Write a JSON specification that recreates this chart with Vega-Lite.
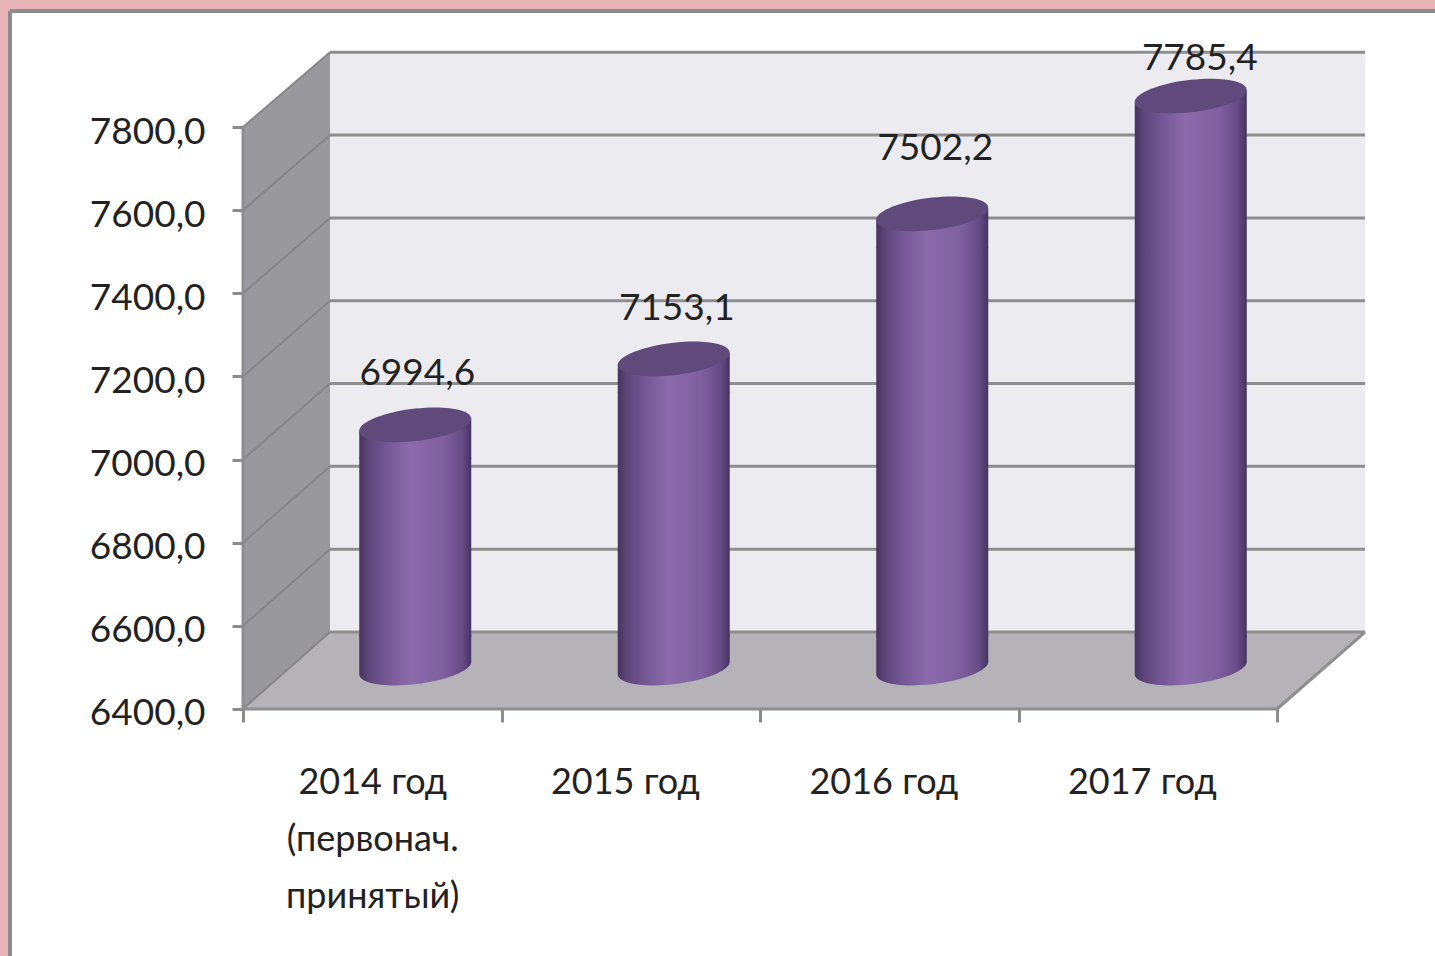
{"$schema":"https://vega.github.io/schema/vega-lite/v6.json","width":1425,"height":945,"autosize":{"type":"none"},"padding":{"left":10,"top":11,"right":0,"bottom":0},"background":"#e6b4b6","view":{"fill":"#ffffff","stroke":null},
"config":{"font":"Lato","axis":{"labelFont":"Lato","labelFontSize":36,"labelColor":"#222222","tickColor":"#8c8c8c","tickWidth":3,"grid":false}},
"datasets":{
"bars":[{"year":"2014 год","pos":0.5,"value":6994.6,"label":"6994,6","base":6400},{"year":"2015 год","pos":1.5,"value":7153.1,"label":"7153,1","base":6400},{"year":"2016 год","pos":2.5,"value":7502.2,"label":"7502,2","base":6400},{"year":"2017 год","pos":3.5,"value":7785.4,"label":"7785,4","base":6400}],
"grid":[{"v":6400,"back":6585,"front":0,"wall":0.33656,"end":4.3405},{"v":6600,"back":6784,"front":0,"wall":0.33656,"end":4.3405},{"v":6800,"back":6984,"front":0,"wall":0.33656,"end":4.3405},{"v":7000,"back":7183,"front":0,"wall":0.33656,"end":4.3405},{"v":7200,"back":7382,"front":0,"wall":0.33656,"end":4.3405},{"v":7400,"back":7581,"front":0,"wall":0.33656,"end":4.3405},{"v":7600,"back":7781,"front":0,"wall":0.33656,"end":4.3405},{"v":7800,"back":7980,"front":0,"wall":0.33656,"end":4.3405}],
"side":[{"x":0,"low":6400,"high":7800},{"x":0.33656,"low":6585,"high":7980}],
"floor":[{"y":6400,"left":0,"right":4},{"y":6585,"left":0.33656,"right":4.3405}],
"edges":[{"x":0,"x2":0,"y":6400,"y2":7800},{"x":0,"x2":4,"y":6400,"y2":6400},{"x":4,"x2":4.3405,"y":6400,"y2":6585}]
},
"layer":[{"layer":[
{"data":{"values":[{"x":0.33656,"x2":4.3405,"y":6585,"y2":7980}]},"mark":{"type":"rect","fill":"#ecebf0"},"encoding":{"x":{"field":"x","type":"quantitative","scale":{"domain":[-0.90135,4.6112],"nice":false,"zero":false,"padding":0},"axis":null},"x2":{"field":"x2"},"y":{"field":"y","type":"quantitative","scale":{"domain":[5805.84,8079.04],"nice":false,"zero":false},"axis":null},"y2":{"field":"y2"}}},
{"data":{"name":"floor"},"mark":{"type":"area","orient":"horizontal","fill":"#b5b3b7","opacity":1},"encoding":{"y":{"field":"y","type":"quantitative","scale":{"domain":[5805.84,8079.04],"nice":false,"zero":false},"axis":null},"x":{"field":"left","type":"quantitative","scale":{"domain":[-0.90135,4.6112],"nice":false,"zero":false,"padding":0},"axis":null},"x2":{"field":"right"}}},
{"data":{"name":"side"},"mark":{"type":"area","orient":"vertical","fill":"#99989c","opacity":1},"encoding":{"x":{"field":"x","type":"quantitative","scale":{"domain":[-0.90135,4.6112],"nice":false,"zero":false,"padding":0},"axis":null},"y":{"field":"low","type":"quantitative","scale":{"domain":[5805.84,8079.04],"nice":false,"zero":false},"axis":null},"y2":{"field":"high"}}},
{"data":{"name":"grid"},"mark":{"type":"rule","stroke":"#8e8e8e","strokeWidth":3},"encoding":{"x":{"field":"wall","type":"quantitative","scale":{"domain":[-0.90135,4.6112],"nice":false,"zero":false,"padding":0},"axis":null},"x2":{"field":"end"},"y":{"field":"back","type":"quantitative","scale":{"domain":[5805.84,8079.04],"nice":false,"zero":false},"axis":null}}},
{"data":{"name":"grid"},"mark":{"type":"rule","stroke":"#868688","strokeWidth":2},"encoding":{"x":{"field":"front","type":"quantitative","scale":{"domain":[-0.90135,4.6112],"nice":false,"zero":false,"padding":0},"axis":null},"x2":{"field":"wall"},"y":{"field":"v","type":"quantitative","scale":{"domain":[5805.84,8079.04],"nice":false,"zero":false},"axis":null},"y2":{"field":"back"}}},
{"data":{"name":"edges"},"mark":{"type":"rule","stroke":"#8e8e8e","strokeWidth":3},"encoding":{"x":{"field":"x","type":"quantitative","scale":{"domain":[-0.90135,4.6112],"nice":false,"zero":false,"padding":0},"axis":null},"x2":{"field":"x2"},"y":{"field":"y","type":"quantitative","scale":{"domain":[5805.84,8079.04],"nice":false,"zero":false},"axis":null},"y2":{"field":"y2"}}},
{"data":{"name":"bars"},"mark":{"type":"point","filled":true,"opacity":1,"stroke":null,"size":12544,"xOffset":43,"yOffset":-41,"shape":"M-1,-.6 L1,-.6 L1,-.11 C1,.05 .552,.229 0,.29 C-.552,.351 -1,.27 -1,.11 Z","fill":{"gradient":"linear","x1":0,"x2":1,"y1":0,"y2":0,"stops":[{"offset":0,"color":"#47345f"},{"offset":0.08,"color":"#5d4579"},{"offset":0.22,"color":"#705591"},{"offset":0.45,"color":"#8b6bab"},{"offset":0.75,"color":"#7f609f"},{"offset":0.92,"color":"#654b85"},{"offset":1,"color":"#453360"}]}},"encoding":{"x":{"field":"pos","type":"quantitative","scale":{"domain":[-0.90135,4.6112],"nice":false,"zero":false,"padding":0},"axis":null},"y":{"field":"base","type":"quantitative","scale":{"domain":[5805.84,8079.04],"nice":false,"zero":false},"axis":null}}},
{"data":{"name":"bars"},"mark":{"type":"bar","size":112,"xOffset":43,"x2Offset":43,"yOffset":-4,"y2Offset":-72,"fill":{"gradient":"linear","x1":0,"x2":1,"y1":0,"y2":0,"stops":[{"offset":0,"color":"#47345f"},{"offset":0.08,"color":"#5d4579"},{"offset":0.22,"color":"#705591"},{"offset":0.45,"color":"#8b6bab"},{"offset":0.75,"color":"#7f609f"},{"offset":0.92,"color":"#654b85"},{"offset":1,"color":"#453360"}]}},"encoding":{"x":{"field":"pos","type":"quantitative","scale":{"domain":[-0.90135,4.6112],"nice":false,"zero":false,"padding":0},"axis":null},"y":{"field":"value","type":"quantitative","scale":{"domain":[5805.84,8079.04],"nice":false,"zero":false},"axis":null},"y2":{"field":"base"}}},
{"data":{"name":"bars"},"mark":{"type":"point","filled":true,"opacity":1,"stroke":null,"size":12544,"xOffset":43,"yOffset":-37,"shape":"M-1,.11 L1,-.11 L1,.6 L-1,.6 Z","fill":{"gradient":"linear","x1":0,"x2":1,"y1":0,"y2":0,"stops":[{"offset":0,"color":"#47345f"},{"offset":0.08,"color":"#5d4579"},{"offset":0.22,"color":"#705591"},{"offset":0.45,"color":"#8b6bab"},{"offset":0.75,"color":"#7f609f"},{"offset":0.92,"color":"#654b85"},{"offset":1,"color":"#453360"}]}},"encoding":{"x":{"field":"pos","type":"quantitative","scale":{"domain":[-0.90135,4.6112],"nice":false,"zero":false,"padding":0},"axis":null},"y":{"field":"value","type":"quantitative","scale":{"domain":[5805.84,8079.04],"nice":false,"zero":false},"axis":null}}},
{"data":{"name":"bars"},"mark":{"type":"point","filled":true,"opacity":1,"stroke":null,"fill":"#5f4a7b","size":12544,"xOffset":43,"yOffset":-37,"shape":"M1,-.11 C1,.05 .552,.229 0,.29 C-.552,.351 -1,.27 -1,.11 C-1,-.05 -.552,-.229 0,-.29 C.552,-.351 1,-.27 1,-.11 Z"},"encoding":{"x":{"field":"pos","type":"quantitative","scale":{"domain":[-0.90135,4.6112],"nice":false,"zero":false,"padding":0},"axis":null},"y":{"field":"value","type":"quantitative","scale":{"domain":[5805.84,8079.04],"nice":false,"zero":false},"axis":null}}},
{"data":{"name":"bars"},"transform":[{"filter":"datum.pos==0.5"}],"mark":{"type":"text","font":"Lato","fontSize":37,"color":"#222222","dx":45,"dy":-88},"encoding":{"text":{"field":"label"},"x":{"field":"pos","type":"quantitative","scale":{"domain":[-0.90135,4.6112],"nice":false,"zero":false,"padding":0},"axis":null},"y":{"field":"value","type":"quantitative","scale":{"domain":[5805.84,8079.04],"nice":false,"zero":false},"axis":null}}},
{"data":{"name":"bars"},"transform":[{"filter":"datum.pos==1.5"}],"mark":{"type":"text","font":"Lato","fontSize":37,"color":"#222222","dx":46,"dy":-87},"encoding":{"text":{"field":"label"},"x":{"field":"pos","type":"quantitative","scale":{"domain":[-0.90135,4.6112],"nice":false,"zero":false,"padding":0},"axis":null},"y":{"field":"value","type":"quantitative","scale":{"domain":[5805.84,8079.04],"nice":false,"zero":false},"axis":null}}},
{"data":{"name":"bars"},"transform":[{"filter":"datum.pos==2.5"}],"mark":{"type":"text","font":"Lato","fontSize":37,"color":"#222222","dx":46,"dy":-102},"encoding":{"text":{"field":"label"},"x":{"field":"pos","type":"quantitative","scale":{"domain":[-0.90135,4.6112],"nice":false,"zero":false,"padding":0},"axis":null},"y":{"field":"value","type":"quantitative","scale":{"domain":[5805.84,8079.04],"nice":false,"zero":false},"axis":null}}},
{"data":{"name":"bars"},"transform":[{"filter":"datum.pos==3.5"}],"mark":{"type":"text","font":"Lato","fontSize":37,"color":"#222222","dx":52,"dy":-74},"encoding":{"text":{"field":"label"},"x":{"field":"pos","type":"quantitative","scale":{"domain":[-0.90135,4.6112],"nice":false,"zero":false,"padding":0},"axis":null},"y":{"field":"value","type":"quantitative","scale":{"domain":[5805.84,8079.04],"nice":false,"zero":false},"axis":null}}},
{"data":{"values":[{"a":1}]},"mark":{"type":"rule","stroke":"#8c8c8c","strokeWidth":4},"encoding":{"x":{"datum":-0.90135,"type":"quantitative","scale":{"domain":[-0.90135,4.6112],"nice":false,"zero":false,"padding":0},"axis":null}}},
{"data":{"values":[{"a":1}]},"mark":{"type":"rule","stroke":"#8c8c8c","strokeWidth":4},"encoding":{"y":{"datum":8079.04,"type":"quantitative","scale":{"domain":[5805.84,8079.04],"nice":false,"zero":false},"axis":null}}}
]},
{"data":{"name":"bars"},"mark":{"type":"point","opacity":0},"encoding":{"x":{"field":"pos","type":"quantitative","scale":{"domain":[-0.90135,4.6112],"nice":false,"zero":false,"padding":0},"axis":{"title":null,"orient":"bottom","zindex":1,"values":[0.5,1.477,2.477,3.477],"labelExpr":"datum.value<1?['2014 год','(первонач.','принятый)']:datum.value<2?'2015 год':datum.value<3?'2016 год':'2017 год'","labelLineHeight":57,"domain":false,"ticks":false,"labelPadding":56,"labelAngle":0,"labelFlush":false,"labelOverlap":false,"offset":-247}},"y":{"field":"value","type":"quantitative","scale":{"domain":[5805.84,8079.04],"nice":false,"zero":false},"axis":{"title":null,"orient":"left","zindex":1,"values":[6400,6600,6800,7000,7200,7400,7600,7800],"labelExpr":"replace(format(datum.value,'.1f'),'.',',')","labelFontSize":37,"labelOffset":5,"domain":false,"tickSize":11,"labelPadding":27,"labelOverlap":false,"offset":-233}}}},
{"data":{"name":"bars"},"mark":{"type":"point","opacity":0},"encoding":{"x":{"field":"pos","type":"quantitative","scale":{"domain":[-0.90135,4.6112],"nice":false,"zero":false,"padding":0},"axis":{"title":null,"orient":"bottom","zindex":1,"values":[0,1,2,3,4],"labels":false,"domain":false,"ticks":true,"tickSize":13,"offset":-247}},"y":{"field":"value","type":"quantitative","scale":{"domain":[5805.84,8079.04],"nice":false,"zero":false},"axis":null}}}
],"resolve":{"scale":{"x":"independent"},"axis":{"x":"independent","y":"independent"}}}
